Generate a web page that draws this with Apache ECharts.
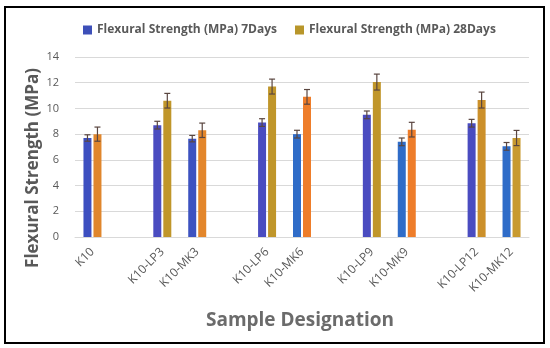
<!DOCTYPE html>
<html>
<head>
<meta charset="utf-8">
<script src="https://cdn.jsdelivr.net/npm/echarts@6/dist/echarts.min.js"></script>
<style>html,body{margin:0;padding:0;background:#fff}#c{width:550px;height:348px}</style>
</head>
<body>
<div id="c"></div>
<script>
var categories = ['K10', '', 'K10-LP3', 'K10-MK3', '', 'K10-LP6', 'K10-MK6', '', 'K10-LP9', 'K10-MK9', '', 'K10-LP12', 'K10-MK12'];
var days7  = [7.7, null, 8.7, 7.65, null, 8.9, 8.0, null, 9.5, 7.4, null, 8.85, 7.05];
var err7   = [0.25, null, 0.3, 0.25, null, 0.3, 0.3, null, 0.3, 0.3, null, 0.3, 0.3];
var days28 = [8.0, null, 10.6, 8.3, null, 11.7, 10.9, null, 12.05, 8.35, null, 10.65, 7.7];
var err28  = [0.55, null, 0.57, 0.56, null, 0.58, 0.57, null, 0.62, 0.57, null, 0.62, 0.59];
var yTicks = [0, 2, 4, 6, 8, 10, 12, 14];
var seriesNames = ['Flexural Strength (MPa) 7Days', 'Flexural Strength (MPa) 28Days'];

var blueCols = ['#3d4fc0', null, '#4a4cc0', '#3d52c0', null, '#4a4cc0', '#2f6cc8', null, '#4a4cc0', '#2f6cc8', null, '#4a4cc0', '#2f6cc8'];
var goldCols = ['#e0862c', null, '#c0962a', '#e3862b', null, '#c0962a', '#ee7d2a', null, '#c0962a', '#ee7d2a', null, '#cc902a', '#c89a30'];

var chart = echarts.init(document.getElementById('c'), null, {renderer: 'canvas'});
var BW = 8, OFF = 5;

function errSeries(vals, errs, shift) {
  return {
    type: 'custom',
    silent: true,
    z: 10,
    data: vals.map(function (v, i) { return v == null ? [i, null, null] : [i, v - errs[i], v + errs[i]]; }),
    encode: {x: 0, y: [1, 2]},
    renderItem: function (params, api) {
      var lo = api.value(1), hi = api.value(2);
      if (lo == null || isNaN(lo)) return;
      var a = api.coord([api.value(0), lo]);
      var b = api.coord([api.value(0), hi]);
      var x = a[0] + shift;
      var st = {stroke: '#5a4640', lineWidth: 1.2};
      return {type: 'group', children: [
        {type: 'line', shape: {x1: x, y1: a[1], x2: x, y2: b[1]}, style: st},
        {type: 'line', shape: {x1: x - 3, y1: a[1], x2: x + 3, y2: a[1]}, style: st},
        {type: 'line', shape: {x1: x - 3, y1: b[1], x2: x + 3, y2: b[1]}, style: st}
      ]};
    }
  };
}

chart.setOption({
  animation: false,
  textStyle: {fontFamily: 'Open Sans'},
  legend: {
    top: 19, left: 78,
    itemWidth: 9, itemHeight: 9, itemGap: 18,
    icon: 'rect',
    textStyle: {color: '#595959', fontSize: 12, fontWeight: 'bold', fontFamily: 'Open Sans'},
    data: [{name: seriesNames[0], itemStyle: {color: '#3d4fb8'}}, {name: seriesNames[1], itemStyle: {color: '#b8962a'}}]
  },
  grid: {left: 75, right: 21, top: 57, bottom: 111, containLabel: false},
  xAxis: {
    type: 'category',
    data: categories,
    axisTick: {show: false},
    axisLine: {lineStyle: {color: '#d9d9d9'}},
    axisLabel: {interval: 0, rotate: 45, color: '#595959', fontSize: 12, margin: 13}
  },
  yAxis: {
    type: 'value',
    min: yTicks[0], max: yTicks[yTicks.length - 1], interval: 2,
    axisLine: {show: false},
    axisTick: {show: false},
    axisLabel: {color: '#595959', fontSize: 11, margin: 16},
    splitLine: {lineStyle: {color: '#d9d9d9'}}
  },
  graphic: [
    {type: 'rect', shape: {x: 5, y: 7, width: 539, height: 336}, style: {fill: 'none', stroke: '#000', lineWidth: 2}, z: 100},
    {type: 'text', x: 33, y: 168, rotation: Math.PI / 2, style: {text: 'Flexural Strength (MPa)', fill: '#595959', font: 'bold 17px "Open Sans"', textAlign: 'center', textVerticalAlign: 'middle'}},
    {type: 'text', x: 300, y: 321, style: {text: 'Sample Designation', fill: '#6b6b6b', font: 'bold 19px "Open Sans"', textAlign: 'center', textVerticalAlign: 'middle'}}
  ],
  series: [
    {name: seriesNames[0], type: 'bar', barWidth: BW, barGap: '25%',
     data: days7.map(function (v, i) { return v == null ? null : {value: v, itemStyle: {color: blueCols[i]}}; })},
    {name: seriesNames[1], type: 'bar', barWidth: BW, barGap: '25%',
     data: days28.map(function (v, i) { return v == null ? null : {value: v, itemStyle: {color: goldCols[i]}}; })},
    errSeries(days7, err7, -OFF),
    errSeries(days28, err28, OFF)
  ]
});
</script>
</body>
</html>
